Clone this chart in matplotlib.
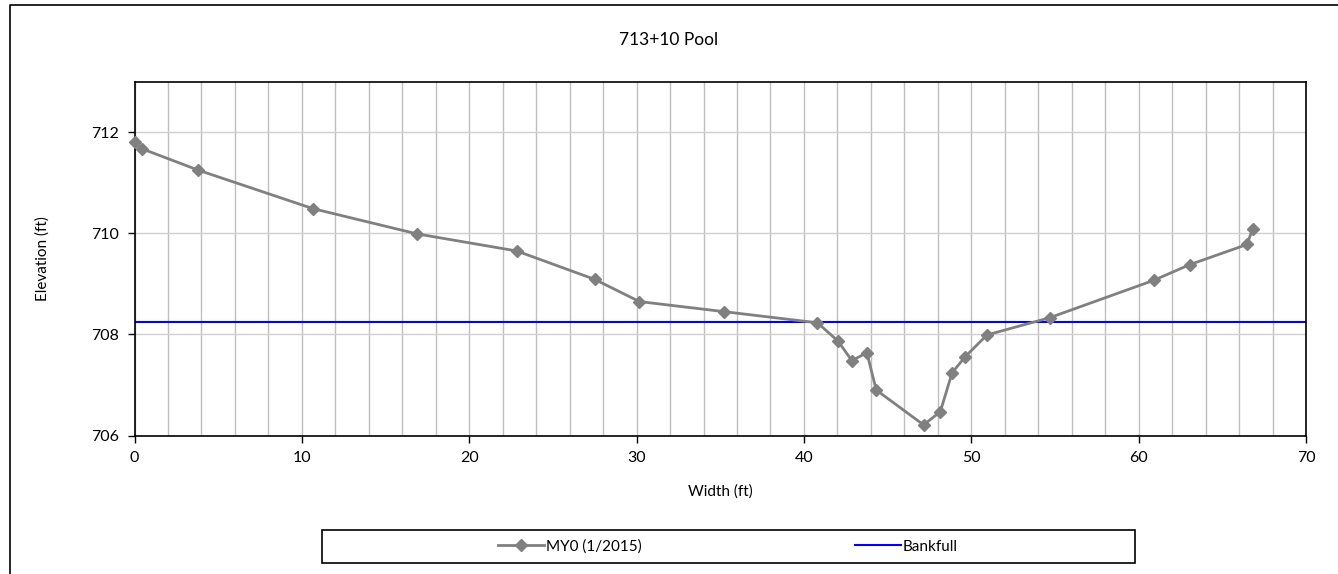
import numpy as np
import matplotlib
matplotlib.use("Agg")
import matplotlib.pyplot as plt
from matplotlib.patches import Rectangle
from matplotlib.lines import Line2D
from matplotlib.ticker import MultipleLocator

# survey data
width_ft = [0.0, 0.47, 3.81, 10.65, 16.87, 22.85, 27.49, 30.17, 35.24, 40.81,
            42.03, 42.87, 43.76, 44.32, 47.15, 48.15, 48.85, 49.64, 50.94,
            54.68, 60.90, 63.05, 66.48, 66.81]
elev_ft = [711.80, 711.67, 711.25, 710.49, 709.99, 709.65, 709.09, 708.65,
           708.45, 708.23, 707.87, 707.48, 707.64, 706.90, 706.21, 706.47,
           707.24, 707.56, 707.99, 708.33, 709.07, 709.38, 709.78, 710.09]
bankfull_x = [0, 70]
bankfull_y = [708.24, 708.24]

title = "713+10 Pool"
series_label = "MY0 (1/2015)"
bankfull_label = "Bankfull"

plt.rcParams['font.family'] = ['Lato', 'DejaVu Sans']

W, H = 1338, 574
fig = plt.figure(figsize=(W / 100, H / 100), dpi=100)
ax = fig.add_axes([134.5 / W, 1 - 435.5 / H, (1306 - 134.5) / W, (435.5 - 81.7) / H])

ax.plot(width_ft, elev_ft, color='#808080', lw=2.0, marker='D', ms=6.5,
        label=series_label, zorder=3, clip_on=False)
ax.plot(bankfull_x, bankfull_y, color='#0000FF', lw=1.5, label=bankfull_label, zorder=2)

ax.set_xlim(0, 70)
ax.set_ylim(706, 713)
ax.xaxis.set_major_locator(MultipleLocator(10))
ax.xaxis.set_minor_locator(MultipleLocator(2))
ax.yaxis.set_major_locator(MultipleLocator(2))
ax.grid(True, which='minor', axis='x', color='#BFBFBF', lw=1.0)
ax.grid(True, which='major', axis='x', color='#BFBFBF', lw=1.0)
ax.grid(True, which='major', axis='y', color='#D0D0D0', lw=1.0)
ax.set_axisbelow(True)
ax.tick_params(which='major', direction='out', length=5, width=1, labelsize=11.5, pad=6)
ax.tick_params(which='minor', length=0)
for s in ax.spines.values():
    s.set_color('black')
    s.set_linewidth(1.2)

ax.set_xlabel("Width (ft)", fontsize=11, labelpad=14)
ax.set_ylabel("Elevation (ft)", fontsize=11, labelpad=30)
fig.text(0.5, 1 - 40 / H, title, ha='center', va='center', fontsize=12.5)

# legend box
fig.patches.append(Rectangle((322 / W, 1 - 563 / H), (1135 - 322) / W, 33 / H,
                             transform=fig.transFigure, fill=False,
                             edgecolor='black', lw=1.2))
fig.legend(loc='center', bbox_to_anchor=(728 / W, 1 - 546.5 / H), ncol=2,
           frameon=False, fontsize=11, handlelength=3, handletextpad=0.1,
           columnspacing=14)

# outer chart border (only top and left edges show in the picture)
fig.lines.append(Line2D([10 / W, 10 / W, 1.0], [0.0, 1 - 5 / H, 1 - 5 / H],
                        transform=fig.transFigure, color='black', lw=1.2))

fig.savefig("out.png", dpi=100)
